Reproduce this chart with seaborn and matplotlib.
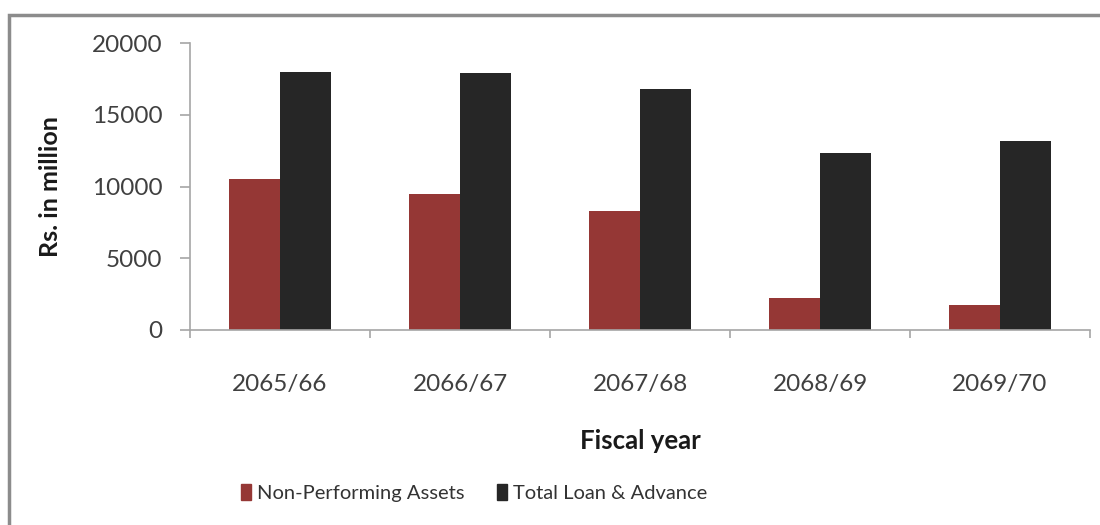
import matplotlib
matplotlib.use("Agg")
import matplotlib.pyplot as plt
from matplotlib.patches import Rectangle
from matplotlib.ticker import FixedLocator
import seaborn as sns
import pandas as pd

years = ["2065/66", "2066/67", "2067/68", "2068/69", "2069/70"]
npa = [10500, 9500, 8300, 2200, 1750]
total_loan = [18000, 17900, 16800, 12300, 13200]
series_names = ["Non-Performing Assets", "Total Loan & Advance"]
series_colors = ["#953735", "#262626"]
y_ticks = [0, 5000, 10000, 15000, 20000]

df = pd.DataFrame({
    "Fiscal year": years * 2,
    "value": npa + total_loan,
    "series": [series_names[0]] * len(years) + [series_names[1]] * len(years),
})

sns.set_theme(style="white")
plt.rcParams["font.family"] = ["Lato", "DejaVu Sans"]

fig = plt.figure(figsize=(11, 5.25), dpi=100)
ax = fig.add_axes([190 / 1100, 1 - 330 / 525, 900 / 1100, 287 / 525])

sns.barplot(data=df, x="Fiscal year", y="value", hue="series",
            palette=series_colors, width=0.567, gap=0, saturation=1,
            edgecolor="none", linewidth=0, ax=ax)

ax.set_xlim(-0.5, len(years) - 0.5)
ax.set_ylim(0, 20000)
ax.set_yticks(y_ticks)
ax.set_yticklabels([str(v) for v in y_ticks])

for s in ["top", "right"]:
    ax.spines[s].set_visible(False)
for s in ["left", "bottom"]:
    ax.spines[s].set_color("#a6a6a6")
    ax.spines[s].set_linewidth(1.2)

ax.tick_params(axis="y", which="major", left=True, length=7, width=1.2,
               color="#a6a6a6", pad=13, labelsize=17.5, labelcolor="#404040")
ax.tick_params(axis="x", which="major", bottom=False, pad=26,
               labelsize=17.5, labelcolor="#404040")
ax.xaxis.set_minor_locator(FixedLocator([i - 0.5 for i in range(len(years) + 1)]))
ax.tick_params(axis="x", which="minor", bottom=True, length=6, width=1.2,
               color="#a6a6a6")

ax.set_ylabel("Rs. in million", fontsize=18, fontweight="bold", color="#1a1a1a")
ax.yaxis.set_label_coords(-0.142, 0.5)
ax.set_xlabel("Fiscal year", fontsize=18.5, fontweight="bold", color="#1a1a1a")
ax.xaxis.set_label_coords(0.5, -0.345)

ax.get_legend().remove()
handles = [Rectangle((0, 0), 1, 1, color=c) for c in series_colors]
fig.legend(handles, series_names, loc="center", bbox_to_anchor=(0.431, 0.061),
           ncol=2, frameon=False, fontsize=14.5, handlelength=0.5,
           handleheight=0.8, handletextpad=0.3, columnspacing=1.6,
           labelcolor="#333333")

# outer chart-area frame (only left and top edges fall on the canvas)
fig.patches.append(Rectangle((9 / 1100, -0.2), 1.5, 1.2 - 15 / 525,
                             transform=fig.transFigure, fill=False,
                             edgecolor="#8c8c8c", linewidth=2.5))

fig.savefig("out.png", dpi=100, facecolor="white")
